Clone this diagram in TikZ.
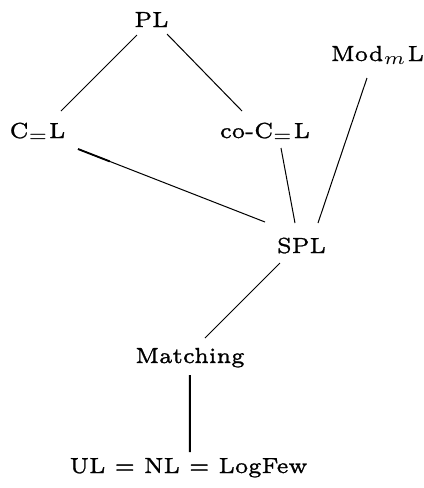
\documentclass[tikz,border=0pt]{standalone}
\usetikzlibrary{calc}
% slightly heavier Latin Modern for the class names
\font\nodefont="[lmroman6-regular]:mapping=tex-text;embolden=1.2" at 6pt
\begin{document}
\begin{tikzpicture}[x=0.325pt,y=-0.325pt,
  cls/.style={inner sep=0pt, outer sep=0pt, font=\fontsize{6}{7.5}\selectfont\nodefont,
    scale=1.18, transform shape, anchor=base},
  edge/.style={line width=0.33pt},
  heavyedge/.style={line width=0.65pt}]
\useasboundingbox (0,0) rectangle (424,488);
% complexity classes (placed by their baselines)
\node[cls] (PL)    at (151.5,27) {PL};
\node[cls] (Mod)   at (377.5,61) {Mod$_m$L};
\node[cls] (CL)    at (37.5,138) {C$_=$L};
\node[cls] (coCL)  at (265,138)  {co-C$_=$L};
\node[cls] (SPL)   at (301.5,253) {SPL};
\node[cls] (Match) at (190,363)  {Matching};
\node[cls] (UL)    at (188.5,473) {UL = NL = LogFew};
% inclusions
\draw[edge] ($(PL.base)+(-14.5,8)$) -- ($(CL.base)+(23.5,-27)$);
\draw[edge] ($(PL.base)+(15.5,7)$) -- ($(coCL.base)+(-23,-27)$);
\coordinate (clA) at ($(CL.base)+(40.5,11)$);
\coordinate (clB) at ($(SPL.base)+(-36.5,-31)$);
\draw[edge] (clA) -- (clB);
\draw[edge, line width=0.6pt] (clA) -- ($(clA)!0.17!(clB)$);
\draw[edge] ($(coCL.base)+(16,10)$) -- ($(SPL.base)+(-6.5,-30)$);
\draw[edge] ($(Mod.base)+(-10.5,17)$) -- ($(SPL.base)+(16.5,-30)$);
\draw[edge] ($(SPL.base)+(-21.5,10)$) -- ($(Match.base)+(15,-25)$);
\draw[heavyedge] ($(Match.base)+(0,12)$) -- ($(UL.base)+(1.5,-21)$);
\end{tikzpicture}
\end{document}
